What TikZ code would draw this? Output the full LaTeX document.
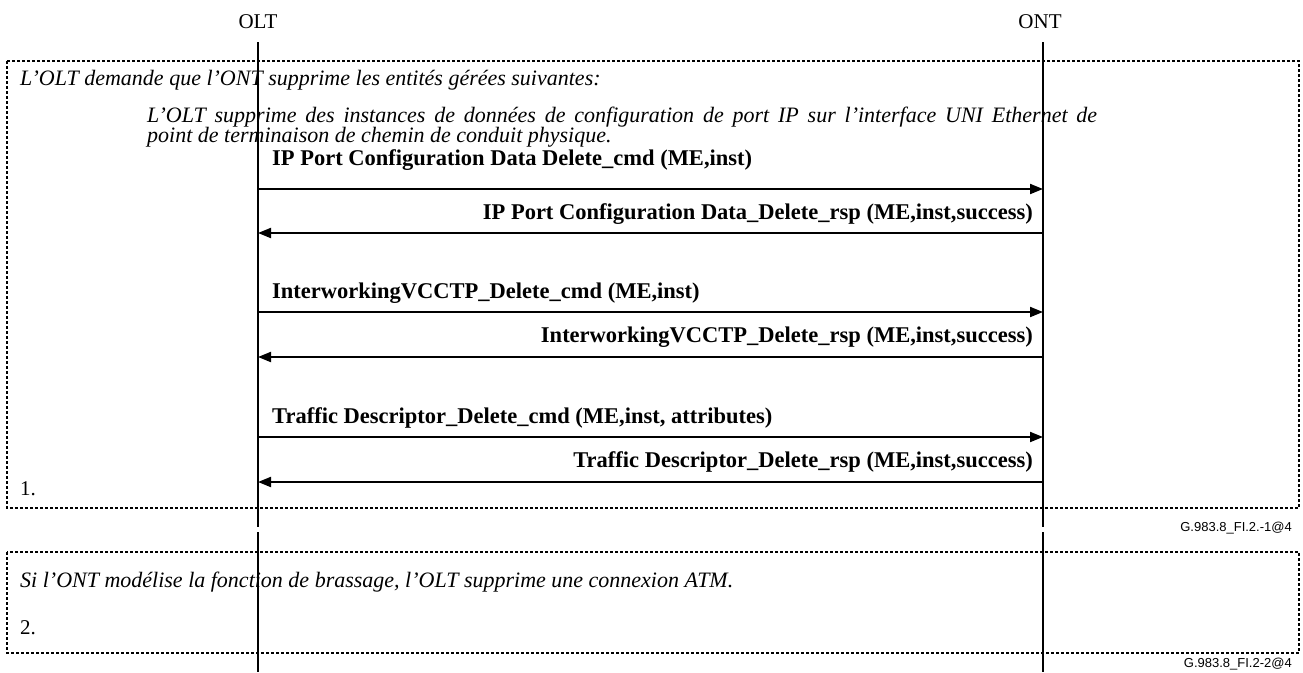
\documentclass[tikz,border=0pt]{standalone}
\usepackage{fontspec}
\setmainfont{Liberation Serif}
\newfontfamily\figfont{Liberation Sans}
\usetikzlibrary{arrows.meta}

\begin{document}
\begin{tikzpicture}[x=1pt, y=-1pt,
  every node/.style={inner sep=0pt, font=\fontsize{21}{24}\selectfont},
  note/.style={anchor=west, align=left, font=\fontsize{22}{20}\selectfont\itshape},
  msg/.style={font=\fontsize{22.5}{24}\selectfont\bfseries},
  tag/.style={anchor=east, font=\figfont\fontsize{13}{15}\selectfont},
  frame/.style={line width=1.5pt, dash pattern=on 3pt off 2pt},
  life/.style={line width=2pt},
  arr/.style={line width=2pt, -{Triangle[length=13pt,width=10pt]}}]
\useasboundingbox (0,0) rectangle (1303,672);
% frames
\draw[frame] (7,61) rectangle (1299,508);
\draw[frame] (7,552) rectangle (1299,653);
% entities
\node (OLT) at (258,22) {OLT};
\node (ONT) at (1040,22) {ONT};
% notes
\node[note] (n1) at (20,80) {L'OLT demande que l'ONT supprime les entités gérées suivantes:};
\node[note] (n2) at (147,127) {\makebox[950pt][s]{L'OLT supprime des instances de données de configuration de port IP sur l'interface UNI Ethernet de}\\point de terminaison de chemin de conduit physique.};
\node[note] (n3) at (20,582) {Si l'ONT modélise la fonction de brassage, l'OLT supprime une connexion ATM.};
\node[anchor=west] (s1) at (20,489) {1.};
\node[anchor=west] (s2) at (20,628) {2.};
% message labels
\node[msg, anchor=west] (m1) at (272,160) {IP Port Configuration Data Delete\_cmd (ME,inst)};
\node[msg, anchor=east] (m2) at (1033,214) {IP Port Configuration Data\_Delete\_rsp (ME,inst,success)};
\node[msg, anchor=west] (m3) at (272,293) {InterworkingVCCTP\_Delete\_cmd (ME,inst)};
\node[msg, anchor=east] (m4) at (1033,337) {InterworkingVCCTP\_Delete\_rsp (ME,inst,success)};
\node[msg, anchor=west] (m5) at (272,418) {Traffic Descriptor\_Delete\_cmd (ME,inst, attributes)};
\node[msg, anchor=east] (m6) at (1033,462) {Traffic Descriptor\_Delete\_rsp (ME,inst,success)};
% figure tags
\node[tag] (t1) at (1292,528) {G.983.8\_FI.2.-1@4};
\node[tag] (t2) at (1292,664) {G.983.8\_FI.2-2@4};
% lifelines
\coordinate (a0) at (258,42);  \coordinate (a1) at (258,527);
\coordinate (b0) at (1043,42); \coordinate (b1) at (1043,527);
\coordinate (a2) at (258,532); \coordinate (a3) at (258,672);
\coordinate (b2) at (1043,532); \coordinate (b3) at (1043,672);
\draw[life] (a0) -- (a1) (b0) -- (b1) (a2) -- (a3) (b2) -- (b3);
% messages
\coordinate (p1) at (258,189); \coordinate (q1) at (1043,189);
\coordinate (p2) at (258,233); \coordinate (q2) at (1043,233);
\coordinate (p3) at (258,312); \coordinate (q3) at (1043,312);
\coordinate (p4) at (258,357); \coordinate (q4) at (1043,357);
\coordinate (p5) at (258,437); \coordinate (q5) at (1043,437);
\coordinate (p6) at (258,482); \coordinate (q6) at (1043,482);
\draw[arr] (p1) -- (q1);
\draw[arr] (q2) -- (p2);
\draw[arr] (p3) -- (q3);
\draw[arr] (q4) -- (p4);
\draw[arr] (p5) -- (q5);
\draw[arr] (q6) -- (p6);
\end{tikzpicture}
\end{document}
